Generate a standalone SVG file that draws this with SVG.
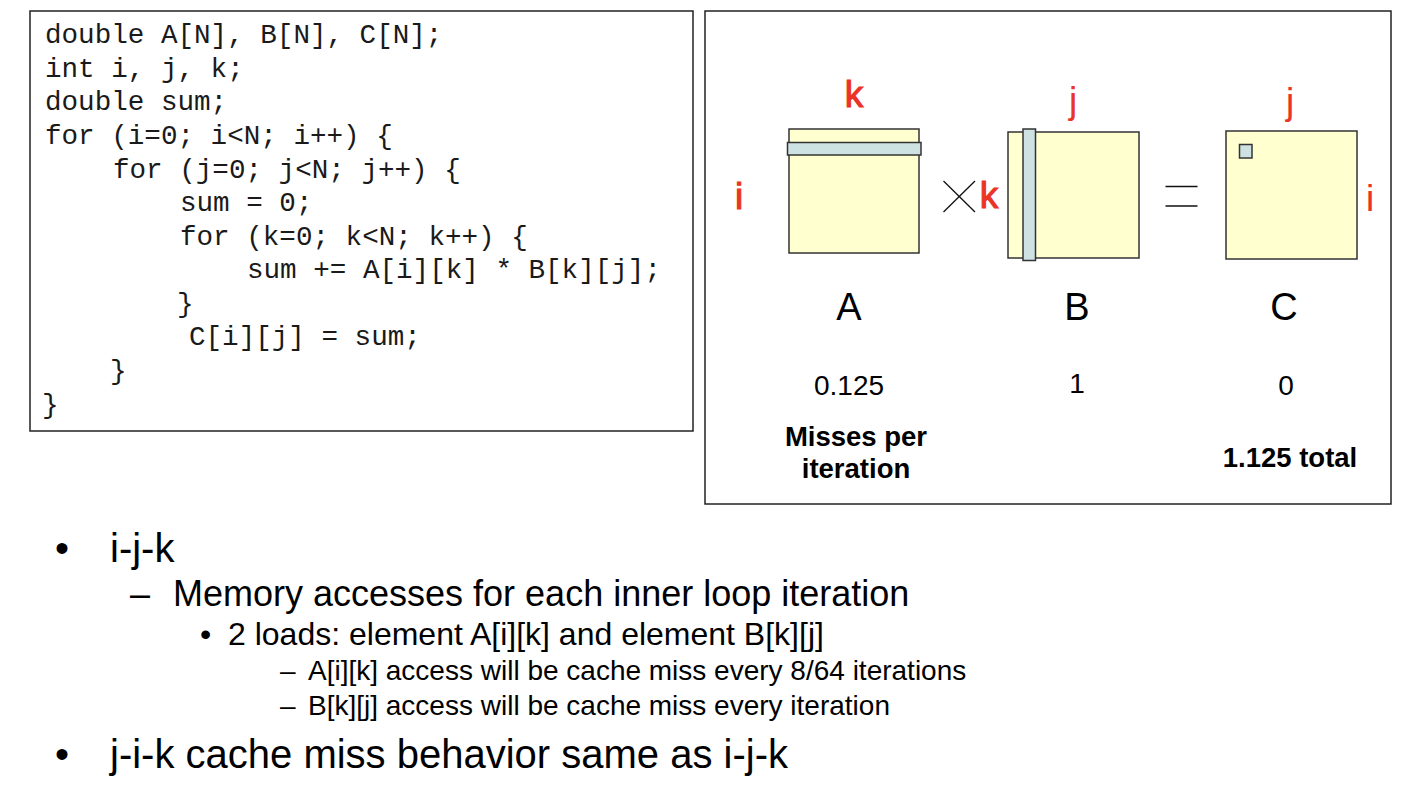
<svg xmlns="http://www.w3.org/2000/svg" width="1410" height="800" viewBox="0 0 1410 800">
<style>
.code{font-family:"Liberation Mono","Courier New",monospace;font-size:27.6px;fill:#1a1a1a}
.red{font-family:"Liberation Sans",Arial,sans-serif;font-size:37px;fill:#EB3327;text-anchor:middle}
.rb{stroke:#EB3327;stroke-width:1.1}
.lbl{font-family:"Liberation Sans",Arial,sans-serif;font-size:38px;fill:#000;text-anchor:middle}
.num{font-family:"Liberation Sans",Arial,sans-serif;font-size:28px;fill:#000;text-anchor:middle}
.bold{font-family:"Liberation Sans",Arial,sans-serif;font-size:27.5px;font-weight:bold;fill:#000;text-anchor:middle}
.t{font-family:"Liberation Sans",Arial,sans-serif;fill:#000}
.mat{fill:#FFFFD0;stroke:#333;stroke-width:1.5}
.band{fill:#CFE2E3;stroke:#333;stroke-width:1.5}
</style>
<rect width="1410" height="800" fill="#fff"/>
<g id="code">
<rect x="30" y="11" width="663" height="420" fill="#fff" stroke="#222" stroke-width="1.5"/>
<text class="code" x="45" y="43">double A[N], B[N], C[N];</text>
<text class="code" x="45" y="77">int i, j, k;</text>
<text class="code" x="45" y="110">double sum;</text>
<text class="code" x="45" y="144">for (i=0; i&lt;N; i++) {</text>
<text class="code" x="113" y="178">for (j=0; j&lt;N; j++) {</text>
<text class="code" x="180" y="211">sum = 0;</text>
<text class="code" x="180" y="245">for (k=0; k&lt;N; k++) {</text>
<text class="code" x="247" y="278">sum += A[i][k] * B[k][j];</text>
<text class="code" x="177" y="312">}</text>
<text class="code" x="189" y="345">C[i][j] = sum;</text>
<text class="code" x="110" y="379">}</text>
<text class="code" x="42" y="413">}</text>
</g>
<g id="figure">
<rect x="705" y="11" width="686" height="493" fill="#fff" stroke="#222" stroke-width="1.5"/>
</g>
<g id="matrixA">
<rect class="mat" x="789" y="129" width="130" height="124"/>
<rect class="band" x="787.5" y="142.5" width="133.5" height="12.5"/>
<text class="red rb" x="854" y="107">k</text>
<text class="red rb" x="739" y="209">i</text>
<text class="lbl" x="849" y="320">A</text>
<text class="num" x="849" y="395">0.125</text>
</g>
<g id="times">
<line x1="943.5" y1="181" x2="975" y2="212" stroke="#111" stroke-width="1.3"/>
<line x1="975" y1="181" x2="943.5" y2="212" stroke="#111" stroke-width="1.3"/>
</g>
<g id="matrixB">
<rect class="mat" x="1008" y="132" width="131" height="126" stroke="#555"/>
<rect class="band" x="1023" y="129" width="12.5" height="131.5"/>
<text class="red" x="1073" y="113">j</text>
<text class="red rb" x="989" y="208">k</text>
<text class="lbl" x="1077" y="320">B</text>
<text class="num" x="1077" y="393">1</text>
</g>
<g id="equals">
<line x1="1165.5" y1="186.5" x2="1197.5" y2="186.5" stroke="#111" stroke-width="1.3"/>
<line x1="1165.5" y1="206" x2="1197.5" y2="206" stroke="#111" stroke-width="1.3"/>
</g>
<g id="matrixC">
<rect class="mat" x="1226" y="131" width="131" height="128" stroke-width="2"/>
<rect class="band" x="1239.5" y="144.5" width="12.5" height="13.5"/>
<text class="red" x="1290" y="114">j</text>
<text class="red" x="1370" y="211">i</text>
<text class="lbl" x="1284" y="320">C</text>
<text class="num" x="1286" y="395">0</text>
</g>
<g id="misses">
<text class="bold" x="856" y="446">Misses per</text>
<text class="bold" x="856" y="478">iteration</text>
<text class="bold" x="1290" y="467">1.125 total</text>
</g>
<g id="bullets">
<text class="t" x="55" y="562" font-size="40">•</text>
<text class="t" x="110" y="562" font-size="40">i-j-k</text>
<text class="t" x="130" y="606" font-size="36">–</text>
<text class="t" x="173" y="606" font-size="36">Memory accesses for each inner loop iteration</text>
<text class="t" x="200" y="645" font-size="32">•</text>
<text class="t" x="228" y="645" font-size="32">2 loads: element A[i][k] and element B[k][j]</text>
<text class="t" x="280" y="680" font-size="28">–</text>
<text class="t" x="308" y="680" font-size="28">A[i][k] access will be cache miss every 8/64 iterations</text>
<text class="t" x="280" y="715" font-size="28">–</text>
<text class="t" x="308" y="715" font-size="28">B[k][j] access will be cache miss every iteration</text>
<text class="t" x="55" y="768" font-size="40">•</text>
<text class="t" x="110" y="768" font-size="40">j-i-k cache miss behavior same as i-j-k</text>
</g>
</svg>
